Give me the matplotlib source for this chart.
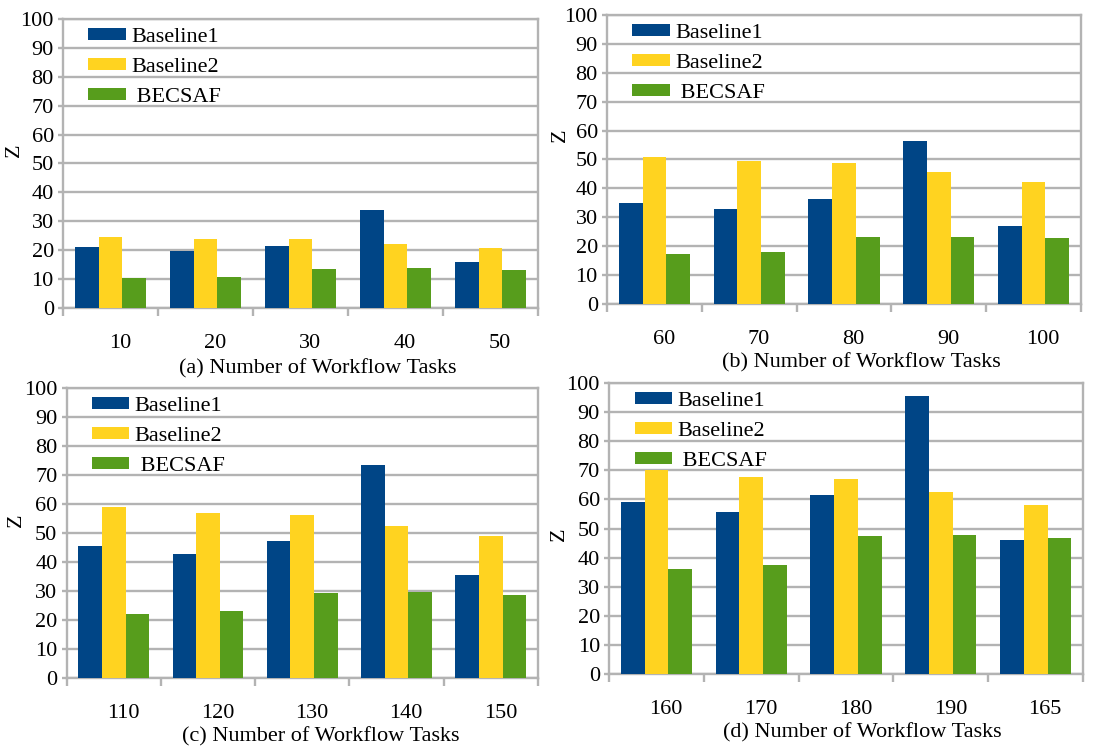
import numpy as np
import matplotlib
matplotlib.use("Agg")
import matplotlib.pyplot as plt
import matplotlib.transforms as mtransforms

# -----------------------------
# DATA
# -----------------------------
tasks_a = ["10", "20", "30", "40", "50"]
baseline1_a = [21.0, 19.8, 21.6, 33.8, 16.0]
baseline2_a = [24.6, 23.9, 23.7, 22.0, 20.6]
becsaf_a = [10.3, 10.8, 13.6, 13.7, 13.3]

tasks_b = ["60", "70", "80", "90", "100"]
baseline1_b = [35.0, 32.8, 36.3, 56.5, 27.1]
baseline2_b = [50.8, 49.3, 48.7, 45.5, 42.2]
becsaf_b = [17.4, 18.1, 23.0, 23.3, 22.7]

tasks_c = ["110", "120", "130", "140", "150"]
baseline1_c = [45.6, 42.9, 47.4, 73.6, 35.4]
baseline2_c = [58.9, 57.0, 56.2, 52.5, 48.9]
becsaf_c = [22.2, 23.0, 29.2, 29.7, 28.7]

tasks_d = ["160", "170", "180", "190", "165"]
baseline1_d = [59.2, 55.7, 61.4, 95.4, 45.9]
baseline2_d = [70.1, 67.6, 66.9, 62.4, 58.1]
becsaf_d = [36.2, 37.5, 47.5, 47.9, 46.6]

series_names = ["Baseline1", "Baseline2", " BECSAF"]
panel_titles = ["(a) Number of Workflow Tasks", "(b) Number of Workflow Tasks",
                "(c) Number of Workflow Tasks", "(d) Number of Workflow Tasks"]

# -----------------------------
# STYLE / LAYOUT
# -----------------------------
COLORS = ["#004586", "#ffd320", "#579d1c"]
GRID = "#b3b3b3"
FS = 16
plt.rcParams["font.family"] = ["Liberation Serif", "DejaVu Serif"]
plt.rcParams["font.size"] = FS

# axes rectangles in figure fractions
positions = [
    [0.0575, 0.5921, 0.4338, 0.3828],
    [0.5543, 0.5974, 0.4329, 0.3828],
    [0.0608, 0.1020, 0.4305, 0.3841],
    [0.5562, 0.1073, 0.4329, 0.3854],
]
ylabel_pos = [(-0.102, 0.547), (-0.099, 0.585), (-0.107, 0.545), (-0.105, 0.48)]
xlabel_pos = [(0.536, -0.21), (0.537, -0.204), (0.539, -0.203), (0.535, -0.203)]

panels = [
    (tasks_a, baseline1_a, baseline2_a, becsaf_a),
    (tasks_b, baseline1_b, baseline2_b, becsaf_b),
    (tasks_c, baseline1_c, baseline2_c, becsaf_c),
    (tasks_d, baseline1_d, baseline2_d, becsaf_d),
]

fig = plt.figure(figsize=(10.95, 7.55), dpi=100)

for i, (pos, (tasks, b1, b2, bec), title) in enumerate(zip(positions, panels, panel_titles)):
    ax = fig.add_axes(pos)
    x = np.arange(len(tasks))
    w = 0.25
    for k, vals in enumerate([b1, b2, bec]):
        ax.bar(x + (k - 1) * w, vals, width=w, color=COLORS[k],
               label=series_names[k], zorder=3, linewidth=0)

    ax.set_xlim(-0.5, len(tasks) - 0.5)
    ax.set_ylim(0, 100)
    ax.set_yticks(np.arange(0, 101, 10))
    ax.grid(axis="y", color=GRID, linewidth=1.7, zorder=0)

    # category boundaries as major ticks, labels on minor ticks
    ax.set_xticks(np.arange(-0.5, len(tasks), 1.0))
    ax.set_xticklabels([])
    ax.set_xticks(x, minor=True)
    ax.set_xticklabels(tasks, minor=True)
    ax.tick_params(axis="x", which="major", direction="out", length=5.8,
                   width=1.7, color=GRID)
    ax.tick_params(axis="x", which="minor", length=0, pad=19, labelsize=FS)
    ax.tick_params(axis="y", direction="out", length=3.6, width=1.7,
                   color=GRID, pad=3, labelsize=FS)
    offset = mtransforms.ScaledTranslation(0.095, 0, fig.dpi_scale_trans)
    for lab in ax.get_xticklabels(minor=True):
        lab.set_transform(lab.get_transform() + offset)

    for sp in ax.spines.values():
        sp.set_color(GRID)
        sp.set_linewidth(1.7)

    ax.set_ylabel("Z", fontsize=FS)
    ax.yaxis.set_label_coords(*ylabel_pos[i])
    ax.yaxis.label.set_va("center")
    ax.set_xlabel(title, fontsize=FS)
    ax.xaxis.set_label_coords(*xlabel_pos[i])
    ax.xaxis.label.set_va("center")

    ax.legend(loc="upper left", bbox_to_anchor=(0.035, 1.0), frameon=False,
              fontsize=FS, handlelength=1.67, handleheight=0.45,
              handletextpad=0.25, labelspacing=0.5, borderaxespad=0.0)

fig.savefig("out.png", dpi=100)
